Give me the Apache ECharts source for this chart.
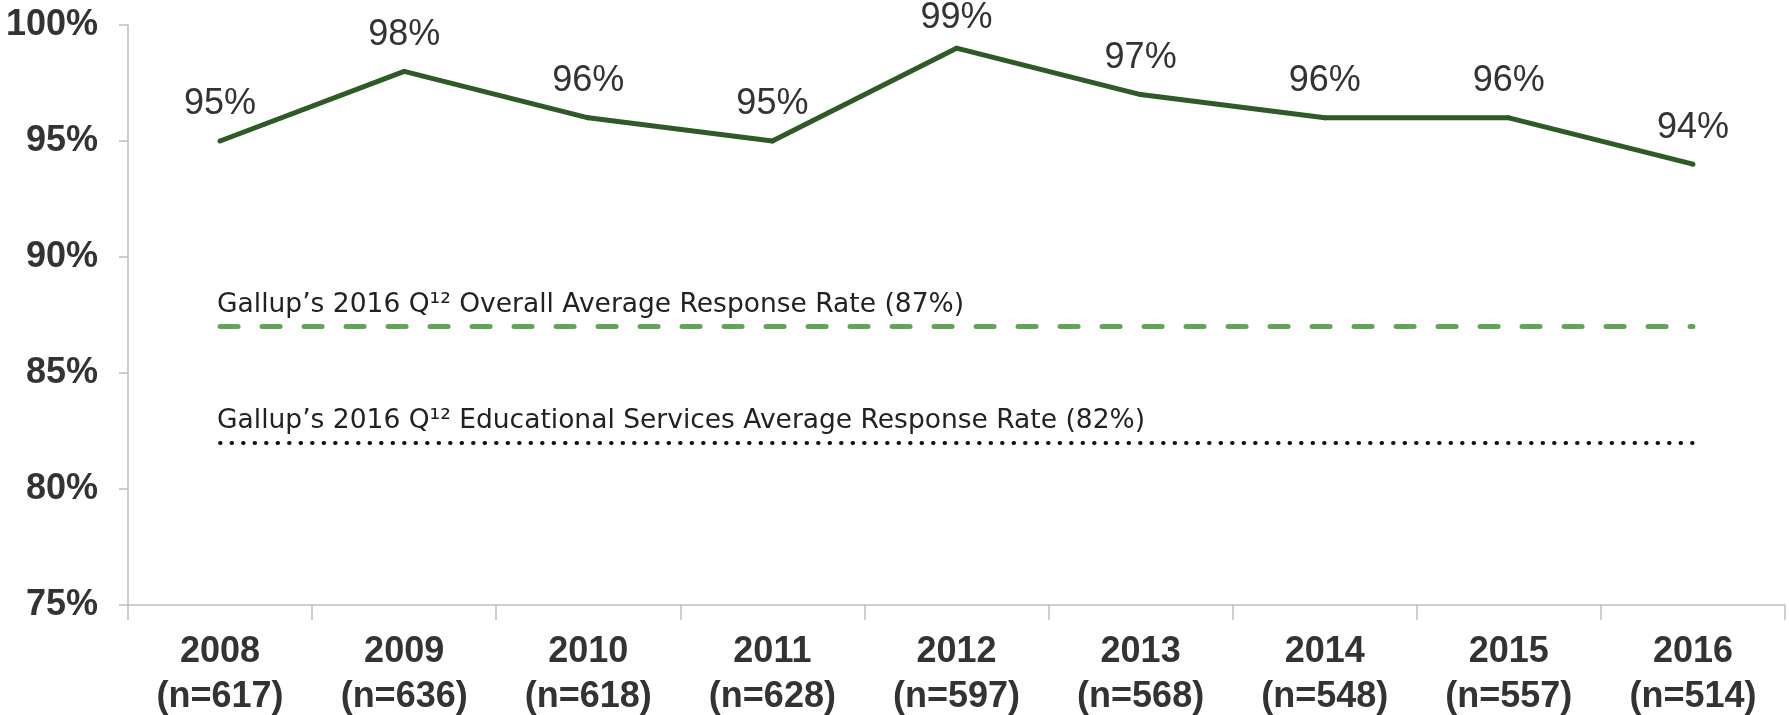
<!DOCTYPE html>
<html>
<head>
<meta charset="utf-8">
<script src="https://cdn.jsdelivr.net/npm/echarts@6/dist/echarts.min.js"></script>
<style>
  html, body { margin: 0; padding: 0; background: #ffffff; }
  #chart { width: 1789px; height: 715px; }
</style>
</head>
<body>
<div id="chart"></div>
<script>
// Survey years and respondent counts
const years = ['2008', '2009', '2010', '2011', '2012', '2013', '2014', '2015', '2016'];
const respondents = [617, 636, 618, 628, 597, 568, 548, 557, 514];
// Response rate per year (%)
const responseRate = [95, 98, 96, 95, 99, 97, 96, 96, 94];
// Benchmark response rates (%)
const overallBenchmark = 87;
const educationBenchmark = 82;
// Value axis ticks
const yMin = 75, yMax = 100, yStep = 5;

const FONT = '"Liberation Sans", Arial, Helvetica, sans-serif';
const NOTE_FONT = '"DejaVu Sans", "Liberation Sans", sans-serif';
const categories = years.map((y, i) => y + '\n(n=' + respondents[i] + ')');
const last = years.length - 1;

const chart = echarts.init(document.getElementById('chart'), null, { renderer: 'canvas' });

chart.setOption({
  backgroundColor: '#ffffff',
  animation: false,
  grid: { left: 128, right: 4, top: 25, bottom: 110, containLabel: false, outerBoundsMode: 'none' },
  xAxis: {
    type: 'category',
    data: categories,
    boundaryGap: true,
    axisLine: { show: true, lineStyle: { color: '#bdbdbd', width: 1.5 } },
    axisTick: { show: true, length: 15, lineStyle: { color: '#bdbdbd', width: 1.5 } },
    axisLabel: {
      interval: 0,
      margin: 25,
      fontFamily: FONT,
      fontSize: 36,
      fontWeight: 'bold',
      lineHeight: 45,
      color: '#333333'
    },
    splitLine: { show: false }
  },
  yAxis: {
    type: 'value',
    min: yMin,
    max: yMax,
    interval: yStep,
    axisLine: { show: true, lineStyle: { color: '#bdbdbd', width: 1.5 } },
    axisTick: { show: true, length: 9, lineStyle: { color: '#bdbdbd', width: 1.5 } },
    axisLabel: {
      margin: 30,
      formatter: '{value}%',
      fontFamily: FONT,
      fontSize: 36,
      fontWeight: 'bold',
      color: '#333333'
    },
    splitLine: { show: false }
  },
  series: [
    {
      type: 'line',
      data: responseRate,
      symbol: 'circle',
      symbolSize: 5,
      showSymbol: true,
      itemStyle: { color: '#2d5a25' },
      lineStyle: { color: '#2d5a25', width: 5, join: 'round' },
      label: {
        show: true,
        position: 'top',
        distance: 16,
        formatter: '{c}%',
        fontFamily: FONT,
        fontSize: 36,
        color: '#333333'
      },
      // keep value labels inside the canvas
      labelLayout: function (p) {
        const r = p.labelRect;
        return r && r.y < 0 ? { dy: -r.y } : {};
      },
      markLine: {
        silent: true,
        symbol: 'none',
        animation: false,
        label: {
          show: true,
          position: 'insideStartTop',
          distance: [-3, 8],
          fontFamily: NOTE_FONT,
          fontSize: 26.5,
          color: '#222222'
        },
        data: [
          [
            {
              coord: [0, overallBenchmark],
              lineStyle: { color: '#5ea653', width: 5, type: [18, 24], cap: 'round' },
              label: { formatter: 'Gallup’s 2016 Q¹² Overall Average Response Rate (' + overallBenchmark + '%)' }
            },
            { coord: [last, overallBenchmark] }
          ],
          [
            {
              coord: [0, educationBenchmark],
              lineStyle: { color: '#111111', width: 4, type: [0.5, 11], cap: 'round' },
              label: { formatter: 'Gallup’s 2016 Q¹² Educational Services Average Response Rate (' + educationBenchmark + '%)' }
            },
            { coord: [last, educationBenchmark] }
          ]
        ]
      }
    }
  ]
});
</script>
</body>
</html>
